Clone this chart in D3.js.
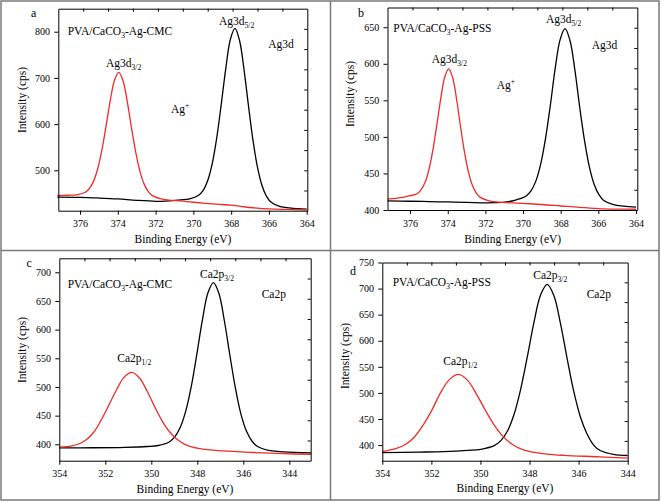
<!DOCTYPE html>
<html><head><meta charset="utf-8">
<script src="https://cdn.jsdelivr.net/npm/d3@7"></script>
<style>
body{margin:0;background:#fff}
svg text{font-family:'Liberation Serif','Times New Roman',Times,serif !important;fill:#000}
</style>
</head><body>
<svg id="chart" width="661" height="502" style="font-family:'Liberation Serif',serif"></svg>
<script>
// ---- tick labels ----
const agEnergyTicks = [376, 374, 372, 370, 368, 366, 364];
const caEnergyTicks = [354, 352, 350, 348, 346, 344];
const yTicksA = [500, 600, 700, 800];
const yTicksB = [400, 450, 500, 550, 600, 650];
const yTicksC = [400, 450, 500, 550, 600, 650, 700];
const yTicksD = [400, 450, 500, 550, 600, 650, 700, 750];

// ---- series: [binding energy (eV), intensity (cps)] ----
const agCmc3d32 = [[377.2,445],[376.65,446],[376.2,447],[375.75,452],[375.525,459.6],[375.3,475],[375.075,501.8],[374.85,542.5],[374.625,595],[374.4,650.7],[374.175,695],[373.95,712],[373.725,694],[373.5,648.7],[373.275,592],[373.05,538.9],[372.825,497.3],[372.6,469.6],[372.375,453.3],[372.15,444.8],[371.7,438],[371.25,435.6],[370.35,432.4],[369.5,429],[368.5,426],[368,424.5],[367.5,422],[367,419.5],[366.5,417.5],[366,416.5],[365,415.3],[364,414.5]];
const agCmc3d52 = [[377.2,442],[376,441.5],[375,440],[374,438],[373,435],[372,433],[371.5,433.5],[370.68,436],[370.2,438.4],[369.72,446.2],[369.48,456.6],[369.24,477.8],[369.0,514.9],[368.76,571.3],[368.52,644.3],[368.28,721.8],[368.04,783.6],[367.8,807],[367.56,781.6],[367.32,718],[367.08,638.5],[366.84,563.7],[366.6,505.3],[366.36,466.2],[366.12,443.2],[365.88,430.8],[365.4,421.4],[364.92,418.6],[364.5,417],[364,416]];
const agPss3d32 = [[377.2,415],[376.47,417],[376.05,419.2],[375.63,422.3],[375.42,427.4],[375.21,437.5],[375.0,455.1],[374.79,481.8],[374.58,516.1],[374.37,552.7],[374.16,581.8],[373.95,593],[373.74,581.2],[373.53,551.5],[373.32,514.3],[373.11,479.2],[372.9,451.9],[372.69,433.7],[372.48,423],[372.27,417.3],[371.85,412.9],[371.43,411.1],[370,409],[369,407.5],[368,405.5],[367,403.5],[366,402],[365,401.3],[364,401]];
const agPss3d52 = [[377.2,412.5],[376,412],[375,411.5],[374,411],[373,410.5],[372,409.8],[371.5,410],[370.87,411],[370.35,414],[369.83,419.2],[369.58,426],[369.32,439.5],[369.06,463.1],[368.8,498.8],[368.54,545],[368.29,594],[368.03,633],[367.77,648],[367.51,632.2],[367.25,592.4],[367.0,542.6],[366.74,495.8],[366.48,459.3],[366.22,434.9],[365.96,420.6],[365.71,413],[365.19,407.2],[364.65,405.2],[364,403.8]];
const caCmc2p12 = [[354,395],[353.49,397],[353.16,400.5],[352.83,408],[352.5,421],[352.17,443],[351.84,468.7],[351.51,495.2],[351.18,517.1],[350.85,525.5],[350.52,516.1],[350.19,493.4],[349.86,466.2],[349.53,441],[349.2,421.4],[348.87,408.3],[348.54,400],[348.21,395.2],[347.55,390.7],[346.89,388.4],[345.57,385.7],[344.25,383.6],[343.05,382.5]];
const caCmc2p32 = [[354,393.8],[352.5,394],[351.14,394.8],[350.18,396.2],[349.7,397.9],[349.22,404.1],[348.98,412.8],[348.74,429.6],[348.5,458.2],[348.26,501.4],[348.02,557.3],[347.78,616.6],[347.54,663.9],[347.3,682],[347.06,662.9],[346.82,614.6],[346.58,554.3],[346.34,497.4],[346.1,452.2],[345.86,422.6],[345.62,405.3],[345.38,396.1],[344.9,389.4],[344.42,387.2],[343.46,385.3],[343.05,385]];
const caPss2p12 = [[354,388],[353.78,389.5],[353.42,393.5],[353.06,401],[352.7,415],[352.34,438],[351.98,467],[351.62,501],[351.26,525.9],[350.9,535.5],[350.54,524.9],[350.18,499.2],[349.82,468.3],[349.46,439.8],[349.1,417.6],[348.74,402.6],[348.38,393.3],[348.02,387.9],[347.3,382.7],[346.58,380.2],[345.14,377.4],[344,374.8]];
const caPss2p32 = [[354,385.5],[352.5,386.5],[351.5,387.5],[350.52,389.8],[349.98,391.9],[349.44,398.8],[349.17,408.4],[348.9,427],[348.63,459.1],[348.36,507.4],[348.09,569.4],[347.82,635.3],[347.55,687.8],[347.28,708],[347.01,686.8],[346.74,633.3],[346.47,566.4],[346.2,503.4],[345.93,454.4],[345.66,421.6],[345.39,400],[345.12,389.5],[344.58,382],[344,380]];

const RED = "#f22a2a";
const FONT = "'Liberation Serif','Times New Roman',serif";
const svg = d3.select("#chart");

// frame
const frameColor = "#7a7a7a";
svg.append("rect").attr("x",1).attr("y",1).attr("width",658).attr("height",499)
  .attr("fill","none").attr("stroke",frameColor).attr("stroke-width",1.5);
svg.append("line").attr("x1",330.5).attr("x2",330.5).attr("y1",1).attr("y2",500).attr("stroke",frameColor).attr("stroke-width",1.5);
svg.append("line").attr("x1",1).attr("x2",659).attr("y1",250.5).attr("y2",250.5).attr("stroke",frameColor).attr("stroke-width",1.5);

const panels = [
  {letter:"a", L:58.3, T:8.7, R:307.3, B:210.7, xd:[377.15,363.97], yd:[412.6,849.8], xt:agEnergyTicks, yt:yTicksA,
   red:agCmc3d32, black:agCmc3d52, sample:"CMC", letterPos:[31,17], samplePos:[67.7,35.3],
   subLow:["Ag3d","3/2",106,66.7], subHigh:["Ag3d","5/2",219,25], core:["Ag3d",268.3,48.3], ion:[171,113.3],
   xTitle:[183,243], yTitle:[21.5,100]},
  {letter:"b", L:387.5, T:7.5, R:637.3, B:210, xd:[377.2,363.93], yd:[400,677], xt:agEnergyTicks, yt:yTicksB,
   red:agPss3d32, black:agPss3d52, sample:"PSS", letterPos:[358,16.5], samplePos:[393.3,31.7],
   subLow:["Ag3d","3/2",431.7,63.3], subHigh:["Ag3d","5/2",546,23.3], core:["Ag3d",591.7,49.3], ion:[496.7,89.3],
   xTitle:[512.7,243], yTitle:[350,94]},
  {letter:"c", L:59.3, T:258.3, R:310.7, B:460.7, xd:[354,343.07], yd:[371.4,724.4], xt:caEnergyTicks, yt:yTicksC,
   red:caCmc2p12, black:caCmc2p32, sample:"CMC", letterPos:[26.5,267.3], samplePos:[67.7,288.3],
   subLow:["Ca2p","1/2",117.3,361.7], subHigh:["Ca2p","3/2",200,278.3], core:["Ca2p",261.7,298.3], ion:null,
   xTitle:[185,492.7], yTitle:[21.5,350]},
  {letter:"d", L:382.3, T:262.5, R:627.7, B:460.7, xd:[354,344], yd:[370,750], xt:caEnergyTicks, yt:yTicksD,
   red:caPss2p12, black:caPss2p32, sample:"PSS", letterPos:[350,275], samplePos:[392.7,285.7],
   subLow:["Ca2p","1/2",443.3,365], subHigh:["Ca2p","3/2",533.3,279.3], core:["Ca2p",586.7,298.3], ion:null,
   xTitle:[505,491.7], yTitle:[345,356]}
];

function subText(g, x, y, main, sub, size) {
  const t = g.append("text").attr("x",x).attr("y",y).attr("font-size",size).style("font-family",FONT);
  t.append("tspan").text(main);
  t.append("tspan").attr("font-size",size*0.66).attr("dy",3).text(sub);
  return t;
}

panels.forEach(p => {
  const g = svg.append("g").attr("font-family",FONT);
  const x = d3.scaleLinear().domain(p.xd).range([p.L, p.R]);
  const y = d3.scaleLinear().domain(p.yd).range([p.B, p.T]);

  // curves
  const line = d3.line().x(d => x(d[0])).y(d => y(d[1])).curve(d3.curveCatmullRom.alpha(0.5));
  const sorted = arr => arr.slice().sort((a,b) => b[0]-a[0]);
  g.append("path").datum(sorted(p.black)).attr("d",line).attr("fill","none")
    .attr("stroke","#000").attr("stroke-width",1.3);
  g.append("path").datum(sorted(p.red)).attr("d",line).attr("fill","none")
    .attr("stroke",RED).attr("stroke-width",1.3);

  // bottom axis
  const ax = g.append("g").attr("transform",`translate(0,${p.B})`)
    .call(d3.axisBottom(x).tickValues(p.xt).tickSize(4).tickSizeOuter(0).tickPadding(5.5).tickFormat(d3.format("d")));
  // left axis
  const ay = g.append("g").attr("transform",`translate(${p.L},0)`)
    .call(d3.axisLeft(y).tickValues(p.yt).tickSize(4).tickSizeOuter(0).tickPadding(4.3).tickFormat(d3.format("d")));
  // top & right mirrored axes with 10 equal divisions, ticks inward
  const xDiv = d3.scaleLinear().domain([0,10]).range([p.L,p.R]);
  const yDiv = d3.scaleLinear().domain([0,10]).range([p.B,p.T]);
  const at = g.append("g").attr("transform",`translate(0,${p.T})`)
    .call(d3.axisTop(xDiv).tickValues(d3.range(1,10)).tickSize(-3).tickSizeOuter(0).tickFormat(""));
  const ar = g.append("g").attr("transform",`translate(${p.R},0)`)
    .call(d3.axisRight(yDiv).tickValues(d3.range(1,10)).tickSize(-3).tickSizeOuter(0).tickFormat(""));
  [ax,ay,at,ar].forEach(a => {
    a.attr("font-family",FONT);
    a.selectAll("path.domain").attr("stroke","#000").attr("stroke-width",1);
    a.selectAll(".tick line").attr("stroke","#000").attr("stroke-width",1);
    a.selectAll(".tick text").attr("font-size",10).attr("fill","#000").style("font-family",FONT);
  });

  // titles
  g.append("text").attr("x",p.xTitle[0]).attr("y",p.xTitle[1]).attr("text-anchor","middle")
    .attr("font-size",11.5).style("font-family",FONT).text("Binding Energy (eV)");
  g.append("text").attr("transform",`translate(${p.yTitle[0]},${p.yTitle[1]}) rotate(-90)`)
    .attr("text-anchor","middle").attr("dy","0.35em").attr("font-size",11.5).style("font-family",FONT).text("Intensity (cps)");

  // panel letter
  g.append("text").attr("x",p.letterPos[0]).attr("y",p.letterPos[1]).attr("font-size",12).style("font-family",FONT).text(p.letter);

  // sample name
  const s = g.append("text").attr("x",p.samplePos[0]).attr("y",p.samplePos[1]).attr("font-size",11.5).style("font-family",FONT);
  s.append("tspan").text("PVA/CaCO");
  s.append("tspan").attr("font-size",7.5).attr("dy",3).text("3");
  s.append("tspan").attr("dy",-3).text("-Ag-" + p.sample);

  // peak labels
  subText(g, p.subLow[2], p.subLow[3], p.subLow[0], p.subLow[1], 11.5);
  subText(g, p.subHigh[2], p.subHigh[3], p.subHigh[0], p.subHigh[1], 11.5);
  g.append("text").attr("x",p.core[1]).attr("y",p.core[2]).attr("font-size",11.5).style("font-family",FONT).text(p.core[0]);
  if (p.ion) {
    const t = g.append("text").attr("x",p.ion[0]).attr("y",p.ion[1]).attr("font-size",11.5).style("font-family",FONT);
    t.append("tspan").text("Ag");
    t.append("tspan").attr("font-size",7.5).attr("dy",-5).text("+");
  }
});
</script>
</body></html>
